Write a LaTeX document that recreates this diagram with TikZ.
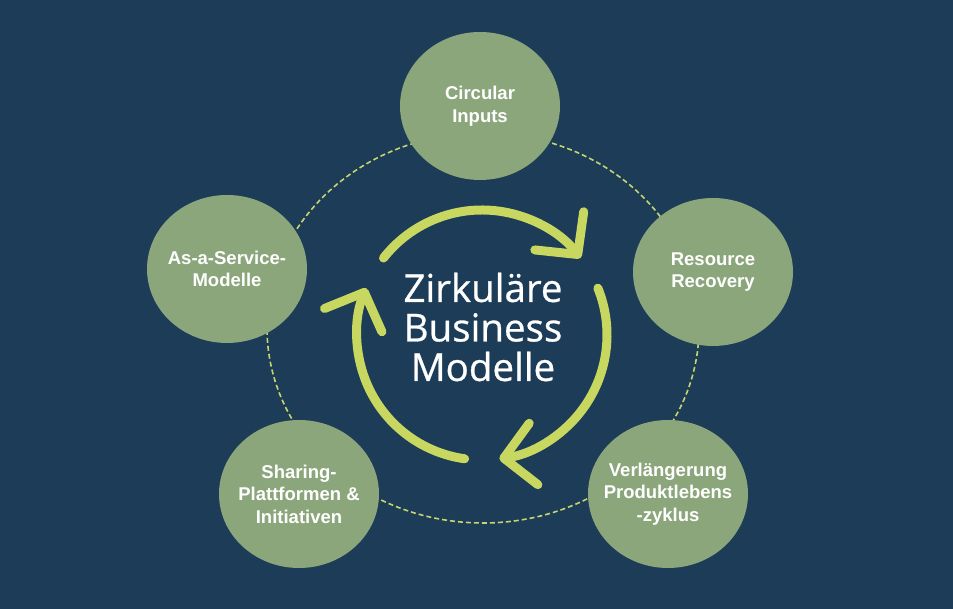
\documentclass[tikz,border=0pt]{standalone}
\usepackage{fontspec}
\setmainfont{Liberation Sans}
\newfontfamily\titlefont[FakeBold=0.7]{Open Sans}
\usetikzlibrary{shapes}
\usetikzlibrary{arrows.meta}
\definecolor{bg_blue}{RGB}{28,60,87}
\definecolor{sage}{RGB}{140,166,124}
\definecolor{lime}{RGB}{200,215,95}
\definecolor{lime_pale}{RGB}{200,212,112}
\tikzset{
        % Business model nodes
        node_model/.style={ellipse, fill=sage, text=white, align=center, inner sep=-30pt, minimum width=160pt, minimum height=148pt, font=\bfseries\fontsize{18.5}{22.5}\selectfont},
        % Title in the middle
        node_title/.style={align=center, inner sep=0pt, text=white, font=\titlefont\fontsize{38.5}{39.5}\selectfont},
        % Arrows of the cycle
        cycle_arrow/.style={draw=lime, line width=9pt, line cap=round, -{Straight Barb[length=30pt,width=62pt,round]}},
        % Dashed ring behind the nodes
        ring_line/.style={draw=lime_pale, line width=1.6pt, dash pattern=on 5pt off 3pt}
}
\begin{document}
\begin{tikzpicture}[x=1pt, y=1pt]
    \fill[bg_blue] (0,0) rectangle (953,609);
    \useasboundingbox (0,0) rectangle (953,609);
    \draw[ring_line] (483,281) ellipse [x radius=216pt, y radius=195pt];
    \node[node_model] (inputs) at (480,503) {Circular\\Inputs};
    \node[node_model] (recovery) at (713,337) {Resource\\Recovery};
    \node[node_model] (lifecycle) at (668,115) {Verlängerung\\Produktlebens\\-zyklus};
    \node[node_model] (sharing) at (299,115) {Sharing-\\Plattformen \&\\Initiativen};
    \node[node_model] (service) at (227,340) {As-a-Service-\\Modelle};
    \coordinate (hub) at (482,274);
    \draw[cycle_arrow] ([shift={(142:125pt)}]hub) arc[start angle=142, end angle=38, radius=125pt];
    \draw[cycle_arrow] ([shift={(22:125pt)}]hub) arc[start angle=22, end angle=-82, radius=125pt];
    \draw[cycle_arrow] ([shift={(-98:125pt)}]hub) arc[start angle=-98, end angle=-202, radius=125pt];
    \node[node_title] (title) at (483,282) {Zirkuläre\\Business\\Modelle};
\end{tikzpicture}
\end{document}
